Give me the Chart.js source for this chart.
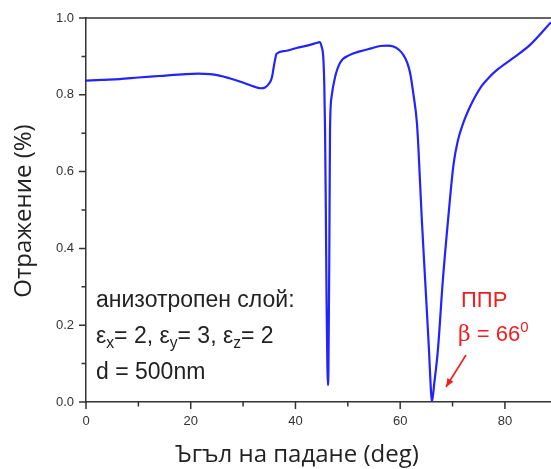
<!DOCTYPE html>
<html>
<head>
<meta charset="utf-8">
<script src="https://cdn.jsdelivr.net/npm/chart.js@4.4.1/dist/chart.umd.min.js"></script>
<style>
  body { margin: 0; background: #fff; }
  #wrap { width: 551px; height: 469px; }
</style>
</head>
<body>
<div id="wrap"><canvas id="reflChart" width="551" height="469"></canvas></div>
<script>
// angle of incidence (deg) and reflectance
const angles = [0, 3, 6.4, 10, 14, 19.1, 21.5, 23.6, 25.5, 27.4, 29.5, 31.5, 32.6, 33.4, 34.2, 35, 35.5, 35.8, 36.1, 36.4,
  38, 40.2, 42.8, 44, 44.6, 45, 45.3, 45.5, 45.65, 45.8, 45.95, 46.1, 46.2, 46.3, 46.45, 46.6, 46.9, 47.6, 48.5, 50.4,
  52.3, 54.5, 56.2, 57.5, 58.7, 59.7, 60.6, 61.3, 61.9, 62.5, 63.2, 63.5, 64.1, 64.8, 65.5, 65.8, 66.05, 66.5, 67.2,
  68.1, 69.2, 70.2, 71, 72, 73.2, 74.3, 75.5, 77, 78.5, 81.6, 84.8, 88.8];
const reflectance = [0.837, 0.839, 0.841, 0.845, 0.849, 0.854, 0.855, 0.854, 0.850, 0.843, 0.834, 0.824, 0.819, 0.817, 0.819, 0.830, 0.845, 0.868, 0.891, 0.907,
  0.914, 0.922, 0.930, 0.935, 0.937, 0.925, 0.90, 0.83, 0.709, 0.50, 0.25, 0.09, 0.044, 0.09, 0.35, 0.709, 0.795, 0.848, 0.883, 0.904,
  0.913, 0.921, 0.927, 0.928, 0.926, 0.918, 0.904, 0.885, 0.857, 0.804, 0.726, 0.656, 0.483, 0.309, 0.135, 0.048, 0.0, 0.048, 0.135,
  0.309, 0.483, 0.62, 0.68, 0.725, 0.765, 0.795, 0.822, 0.846, 0.865, 0.896, 0.930, 0.989];

const xTicks = [0, 20, 40, 60, 80];
const xMinorTicks = [10, 30, 50, 70];
const yTicks = [0, 0.2, 0.4, 0.6, 0.8, 1.0];
const yMinorTicks = [0.1, 0.3, 0.5, 0.7, 0.9];

const axisColor = "#333";
const tickFont = { family: "'Liberation Sans', Arial, sans-serif", size: 13 };

const ctx = document.getElementById("reflChart").getContext("2d");

// minor/major tick marks plus the top frame line
const tickMarks = {
  id: "tickMarks",
  afterDraw(chart) {
    const c = chart.ctx;
    const area = chart.chartArea;
    const xs = chart.scales.x;
    const ys = chart.scales.y;
    c.save();
    c.strokeStyle = axisColor;
    c.lineWidth = 1.5;
    c.beginPath();
    c.moveTo(area.left, area.top);
    c.lineTo(area.right, area.top);
    xTicks.forEach((v) => {
      const px = xs.getPixelForValue(v);
      c.moveTo(px, area.bottom);
      c.lineTo(px, area.bottom + 7);
    });
    xMinorTicks.forEach((v) => {
      const px = xs.getPixelForValue(v);
      c.moveTo(px, area.bottom);
      c.lineTo(px, area.bottom + 4.5);
    });
    yTicks.forEach((v) => {
      const py = ys.getPixelForValue(v);
      c.moveTo(area.left, py);
      c.lineTo(area.left - 7, py);
    });
    yMinorTicks.forEach((v) => {
      const py = ys.getPixelForValue(v);
      c.moveTo(area.left, py);
      c.lineTo(area.left - 4.5, py);
    });
    c.stroke();
    c.restore();
  },
};

// draw a run of text pieces, some as sub/superscripts
function drawRich(c, parts, x, y, size, family) {
  let cx = x;
  parts.forEach((p) => {
    const s = p.sub || p.sup ? size * 0.68 : size;
    c.font = `${s}px ${p.family || family}`;
    const dy = p.sub ? size * 0.22 : p.sup ? -size * 0.42 : 0;
    c.fillText(p.t, cx, y + dy);
    cx += c.measureText(p.t).width;
  });
}

const annotations = {
  id: "annotations",
  afterDraw(chart) {
    const c = chart.ctx;
    const fam = "'Liberation Sans', Arial, sans-serif";
    c.save();
    c.textBaseline = "alphabetic";

    // axis titles
    c.fillStyle = "#222";
    c.font = "24px 'Open Sans', sans-serif";
    c.textAlign = "center";
    c.fillText("Ъгъл на падане (deg)", 297, 462);
    c.save();
    c.translate(31, 211);
    c.rotate(-Math.PI / 2);
    c.fillText("Отражение (%)", 0, 0);
    c.restore();

    // layer description
    c.textAlign = "left";
    c.fillStyle = "#222";
    c.font = `23px ${fam}`;
    c.fillText("анизотропен слой:", 96, 307);
    drawRich(c, [
      { t: "ε" }, { t: "x", sub: true }, { t: "= 2, " },
      { t: "ε" }, { t: "y", sub: true }, { t: "= 3, " },
      { t: "ε" }, { t: "z", sub: true }, { t: "= 2" },
    ], 96, 343, 23, fam);
    c.font = `23px ${fam}`;
    c.fillText("d = 500nm", 96, 379);

    // resonance label
    c.fillStyle = "rgb(240,30,30)";
    c.font = `22px ${fam}`;
    c.fillText("ППР", 461, 307);
    drawRich(c, [
      { t: "β", family: "'DejaVu Serif', serif" }, { t: " = 66" }, { t: "0", sup: true },
    ], 458, 341, 22, fam);

    // arrow to the dip
    c.strokeStyle = "rgb(240,30,30)";
    c.lineWidth = 1.6;
    const x1 = 466, y1 = 355, x2 = 446, y2 = 387;
    c.beginPath();
    c.moveTo(x1, y1);
    c.lineTo(x2, y2);
    c.stroke();
    const ang = Math.atan2(y2 - y1, x2 - x1);
    c.beginPath();
    c.moveTo(x2, y2);
    c.lineTo(x2 - 9 * Math.cos(ang - 0.4), y2 - 9 * Math.sin(ang - 0.4));
    c.lineTo(x2 - 9 * Math.cos(ang + 0.4), y2 - 9 * Math.sin(ang + 0.4));
    c.closePath();
    c.fillStyle = "rgb(240,30,30)";
    c.fill();
    c.restore();
  },
};

const points = angles.map((a, i) => ({ x: a, y: reflectance[i] }));

new Chart(ctx, {
  type: "line",
  data: {
    datasets: [
      {
        data: points,
        borderColor: "rgb(35,35,255)",
        borderWidth: 2.2,
        pointRadius: 0,
        fill: false,
        cubicInterpolationMode: "monotone",
      },
    ],
  },
  options: {
    responsive: false,
    animation: false,
    layout: { padding: { top: 18, right: 0, left: 0, bottom: 0 } },
    plugins: { legend: { display: false }, tooltip: { enabled: false } },
    scales: {
      x: {
        type: "linear",
        min: 0,
        max: 88.8,
        afterBuildTicks: (s) => { s.ticks = xTicks.map((v) => ({ value: v })); },
        afterFit: (s) => { s.height = 67; },
        grid: { display: false, tickLength: 7 },
        border: { display: true, color: axisColor, width: 1.5 },
        ticks: {
          font: tickFont,
          color: "#333",
          padding: 5,
          maxRotation: 0,
          callback: (v) => String(v),
        },
      },
      y: {
        type: "linear",
        min: 0,
        max: 1,
        afterBuildTicks: (s) => { s.ticks = yTicks.map((v) => ({ value: v })); },
        afterFit: (s) => { s.width = 86; },
        grid: { display: false, tickLength: 7 },
        border: { display: true, color: axisColor, width: 1.5 },
        ticks: {
          font: tickFont,
          color: "#333",
          padding: 5,
          callback: (v) => v.toFixed(1),
        },
      },
    },
  },
  plugins: [tickMarks, annotations],
});
</script>
</body>
</html>
